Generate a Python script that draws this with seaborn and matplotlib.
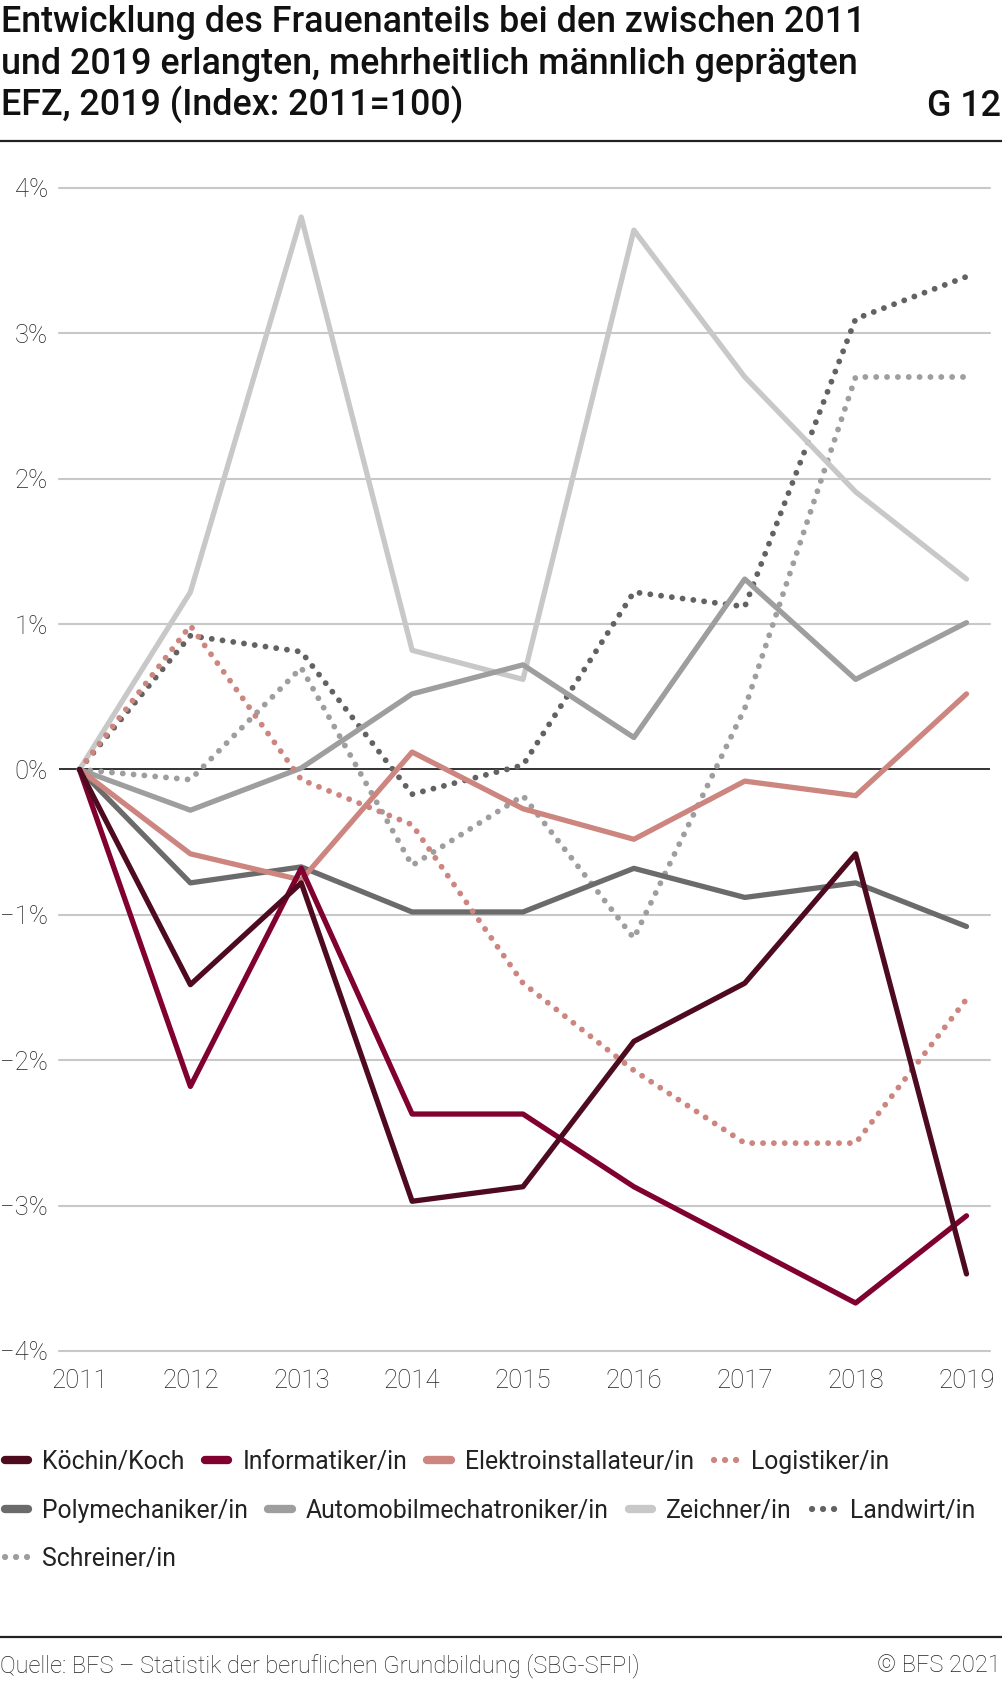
# Frauenanteil in männlich geprägten EFZ, Index 2011=100
import matplotlib
matplotlib.use("Agg")
import matplotlib.pyplot as plt
import seaborn as sns
import pandas as pd
from matplotlib.lines import Line2D

# data (Veränderung in %)
years = [2011, 2012, 2013, 2014, 2015, 2016, 2017, 2018, 2019]
koch = [0, -1.48, -0.78, -2.97, -2.87, -1.87, -1.47, -0.58, -3.47]
informatik = [0, -2.18, -0.68, -2.37, -2.37, -2.87, -3.27, -3.67, -3.07]
elektro = [0, -0.58, -0.76, 0.12, -0.27, -0.48, -0.08, -0.18, 0.52]
logistik = [0, 0.99, -0.07, -0.38, -1.47, -2.07, -2.57, -2.57, -1.58]
polymech = [0, -0.78, -0.67, -0.98, -0.98, -0.68, -0.88, -0.78, -1.08]
automobil = [0, -0.28, 0.01, 0.52, 0.72, 0.22, 1.31, 0.62, 1.01]
zeichner = [0, 1.22, 3.80, 0.82, 0.62, 3.71, 2.70, 1.91, 1.31]
landwirt = [0, 0.92, 0.81, -0.17, 0.03, 1.22, 1.12, 3.10, 3.39]
schreiner = [0, -0.07, 0.70, -0.66, -0.18, -1.16, 0.42, 2.70, 2.70]

labels = ["Köchin/Koch", "Informatiker/in", "Elektroinstallateur/in", "Logistiker/in",
          "Polymechaniker/in", "Automobilmechatroniker/in", "Zeichner/in", "Landwirt/in",
          "Schreiner/in"]
series = [koch, informatik, elektro, logistik, polymech, automobil, zeichner, landwirt, schreiner]
colors = ["#4e0b20", "#800030", "#cc857f", "#cc857f", "#6b6b6b", "#9e9e9e", "#c8c8c8",
          "#626262", "#9e9e9e"]
dotted = [False, False, False, True, False, False, False, True, True]

yticks = [-4, -3, -2, -1, 0, 1, 2, 3, 4]
ytick_labels = ["−4%", "−3%", "−2%", "−1%", "0%", "1%", "2%", "3%", "4%"]

sns.set_theme(style="white")
plt.rcParams["font.family"] = ["Roboto", "DejaVu Sans"]

W, H = 1003, 1684
fig = plt.figure(figsize=(W / 100, H / 100), dpi=100)
ax = fig.add_axes([59 / W, 1 - 1351 / H, (990 - 59) / W, (1351 - 188) / H])

handles = []
n = len(series)
for i, (lab, vals, col, dot) in enumerate(zip(labels, series, colors, dotted)):
    df = pd.DataFrame({"Jahr": years, "Wert": vals})
    kw = dict(color=col, lw=3.8, solid_capstyle="round", solid_joinstyle="round",
              zorder=10 + n - i)
    if dot:
        kw.update(lw=4.2, linestyle=(0, (0.01, 1.85)), dash_capstyle="round")
    sns.lineplot(data=df, x="Jahr", y="Wert", ax=ax, **kw)
    handles.append(Line2D([], [], color=col, lw=6 if not dot else 4.5,
                          solid_capstyle="round", dash_capstyle="round",
                          linestyle=(0, (0.01, 1.75)) if dot else "-"))

ax.set_xlim(2010.815, 2019.212)
ax.set_ylim(-4, 4)
ax.set_xticks(years)
ax.set_xticklabels([str(y) for y in years])
ax.set_yticks(yticks)
ax.set_yticklabels(ytick_labels)
ax.set_xlabel("")
ax.set_ylabel("")
ax.grid(False)
for y in yticks:
    if y == 0:
        ax.axhline(0, color="#333333", lw=1.4, zorder=5)
    else:
        ax.axhline(y, color="#c8c8c8", lw=1.5, zorder=1, clip_on=False)
for s in ax.spines.values():
    s.set_visible(False)
ax.tick_params(axis="both", length=0, labelsize=18.5, labelcolor="#222222")
ax.tick_params(axis="x", pad=13)
ax.tick_params(axis="y", pad=8)
for t in ax.get_xticklabels() + ax.get_yticklabels():
    t.set_fontweight("light")

# title
title_lines = ["Entwicklung des Frauenanteils bei den zwischen 2011",
               "und 2019 erlangten, mehrheitlich männlich geprägten",
               "EFZ, 2019 (Index: 2011=100)"]
for k, line in enumerate(title_lines):
    fig.text(1 / W, 1 - (32 + 42 * k) / H, line, fontsize=25.8, fontweight="medium",
             color="#111111", va="baseline", ha="left")
fig.text(1001 / W, 1 - 116 / H, "G 12", fontsize=25.8, fontweight="medium",
         color="#111111", va="baseline", ha="right")
fig.add_artist(Line2D([0, 1], [1 - 141 / H] * 2, color="#222222", lw=1.6))

# legend rows
rows = [(0, 4, 1462), (4, 8, 1511), (8, 9, 1559)]
for a, b, yy in rows:
    leg = fig.legend(handles[a:b], labels[a:b], ncol=b - a, loc="center left",
                     bbox_to_anchor=(5 / W, 1 - yy / H), frameon=False,
                     fontsize=17.8, handlelength=0.95, handletextpad=0.56,
                     columnspacing=0.82, borderaxespad=0, borderpad=0)
    for t in leg.get_texts():
        t.set_color("#222222")

# footer
fig.add_artist(Line2D([0, 1], [1 - 1637 / H] * 2, color="#222222", lw=1.6))
fig.text(0, 1 - 1672 / H, "Quelle: BFS – Statistik der beruflichen Grundbildung (SBG-SFPI)",
         fontsize=17, fontweight="light", color="#222222", va="baseline", ha="left")
fig.text(1001 / W, 1 - 1672 / H, "© BFS 2021", fontsize=17, fontweight="light",
         color="#222222", va="baseline", ha="right")

fig.savefig("out.png", dpi=100)
